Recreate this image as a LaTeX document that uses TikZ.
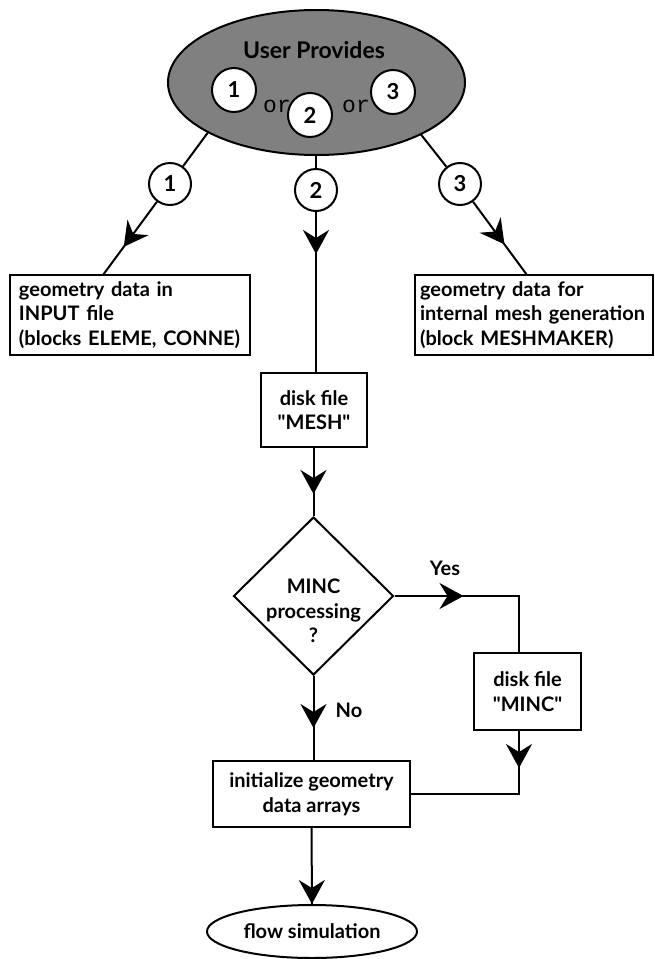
\documentclass[tikz,border=0pt]{standalone}
\usepackage{fontspec}
\setmainfont{Lato}[Ligatures=TeXOff]
\setmonofont{Liberation Mono}
\usetikzlibrary{shapes.geometric,arrows.meta,decorations.markings,calc}
\pgfdeclarelayer{background}
\pgfsetlayers{background,main}
\begin{document}
\begin{tikzpicture}[x=1pt,y=-1pt,
  every node/.style={font=\fontsize{20}{24.5}\selectfont\bfseries},
  box/.style={draw, line width=2pt, inner sep=0pt, align=center},
  lbox/.style={draw, line width=2pt, inner sep=0pt, align=left},
  num/.style={draw, circle, fill=white, line width=2pt, minimum size=42pt, inner sep=0pt, font=\fontsize{22}{22}\selectfont\bfseries},
  conn/.style={line width=2pt},
  arrowat/.style={postaction={decorate}, decoration={markings, mark=at position #1 with {\arrow{Stealth[length=24pt,width=26pt,inset=8pt]}}}},
  ortext/.style={font=\fontsize{23}{23}\ttfamily}
]
\useasboundingbox (0,0) rectangle (654,959);

% top ellipse
\node[ellipse, draw, line width=2pt, fill=black!50, minimum width=297pt, minimum height=145pt, inner sep=0pt] (top) at (316.5,82.5) {};
\node[font=\fontsize{23}{23}\selectfont\bfseries] (up) at (314,50) {User Provides};
\node[num, minimum size=44pt] (t1) at (234,90) {1};
\node[num, minimum size=44pt] (t2) at (310,115) {2};
\node[num, minimum size=44pt] (t3) at (393,92) {3};
\node[ortext] (or1) at (277,106) {or};
\node[ortext] (or2) at (356,106) {or};

% branch circles
\node[num] (c1) at (170,184) {1};
\node[num] (c2) at (316,190) {2};
\node[num] (c3) at (460,184) {3};

% boxes
\node[lbox, minimum width=240pt, minimum height=80pt, text width=222pt] (b1) at (130,315)
  {geometry data in\\INPUT file\\(blocks ELEME, CONNE)};
\node[lbox, minimum width=238pt, minimum height=80pt, text width=228pt] (b3) at (534,315)
  {geometry data for\\internal mesh generation\\(block MESHMAKER)};
\node[box, minimum width=106pt, minimum height=74pt] (mesh) at (314,410) {disk file\\"MESH"};
\node[diamond, draw, line width=2pt, minimum width=160pt, minimum height=158pt, inner sep=0pt] (dia) at (313.5,596) {};
\node[align=center] (diatext) at (313.5,611) {MINC\\processing\\?};
\node[box, minimum width=107pt, minimum height=77pt] (minc) at (527.5,691.5) {disk file\\"MINC"};
\node[box, minimum width=197pt, minimum height=66pt] (init) at (311.5,794) {initialize geometry\\data arrays};
\node[ellipse, draw, line width=2pt, minimum width=210pt, minimum height=53pt, inner sep=0pt] (flow) at (312,931.5) {flow simulation};

\node (yes) at (445,568) {Yes};
\node (no) at (349,710) {No};

\coordinate (e1) at (223,112);
\coordinate (e3) at (404,113);
\coordinate (b1in) at (103,275);
\coordinate (b3in) at (527,275);
\coordinate (mtop) at (519,653);
\coordinate (mbot) at (519,730);

\begin{pgfonlayer}{background}
\draw[conn] (e1) -- (c1);
\draw[conn, arrowat=56pt] (c1) -- (b1in);
\draw[conn] (e3) -- (c3);
\draw[conn, arrowat=53pt] (c3) -- (b3in);
\draw[conn] (top.south -| c2) -- (c2);
\draw[conn, arrowat=42pt] (c2) -- (mesh.north -| c2);
\draw[conn, arrowat=46pt] (mesh.south -| dia.north) -- (dia.north);
\draw[conn, arrowat=69pt] (dia.east) -| (mtop);
\draw[conn, arrowat=38pt] (mbot) |- (init.east);
\draw[conn, arrowat=52pt] (dia.south) -- (init.north -| dia.south);
\draw[conn, arrowat=76pt] (init.south) -- (flow.north);
\end{pgfonlayer}
\end{tikzpicture}
\end{document}
